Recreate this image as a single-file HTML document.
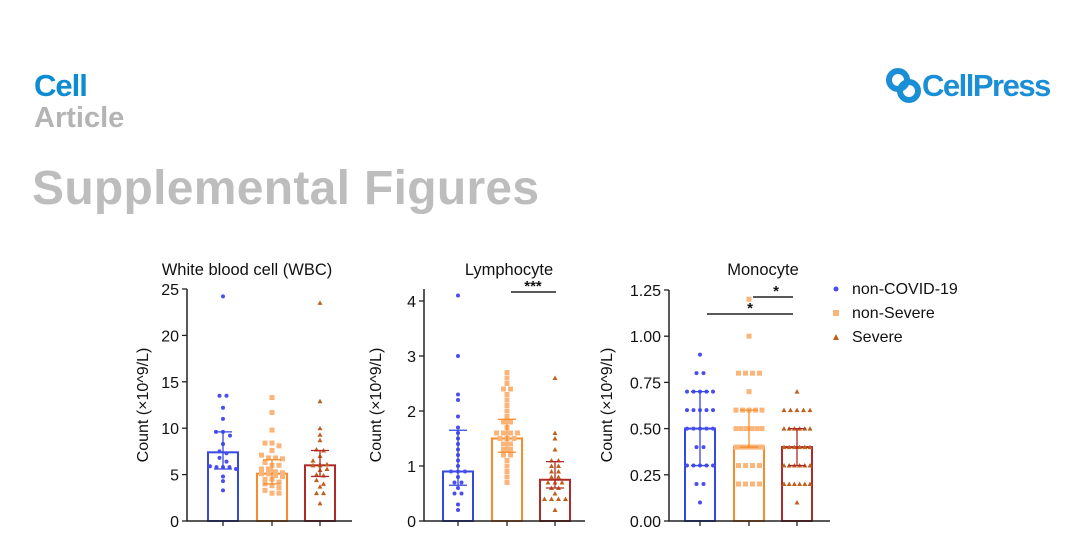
<!DOCTYPE html>
<html><head><meta charset="utf-8"><style>
body{margin:0;background:#fff;width:1080px;height:543px;overflow:hidden;font-family:"Liberation Sans",Arial,sans-serif}
</style></head><body>
<svg id="s" width="1080" height="543" xmlns="http://www.w3.org/2000/svg" font-family="Liberation Sans, Arial, sans-serif">
<text x="34" y="96" font-size="31" font-weight="bold" fill="#0e8cd2" letter-spacing="-1">Cell</text>
<text x="34" y="127" font-size="29" font-weight="bold" fill="#b4b4b4">Article</text>
<text x="32" y="204" font-size="48" font-weight="bold" fill="#bdbdbd" letter-spacing="0.3">Supplemental  Figures</text>
<g>
<circle cx="898" cy="80" r="9" fill="none" stroke="#1a8fd6" stroke-width="6"/>
<circle cx="909" cy="91" r="9" fill="none" stroke="#1a8fd6" stroke-width="6"/>
<text x="922" y="96" font-size="31" font-weight="bold" fill="#1a8fd6" letter-spacing="-1.5">CellPress</text>
</g>
<g id="charts"></g>
<g font-size="16" fill="#111">
<circle cx="836" cy="289" r="2.5" fill="#4a4df0"/><text x="852" y="294">non-COVID-19</text>
<rect x="833" y="310" width="6" height="6" fill="#fbb57a"/><text x="852" y="318">non-Severe</text>
<path d="M833 340 L836 334 L839 340Z" fill="#c0601e"/><text x="852" y="342">Severe</text>
</g>
</svg>
<script>
const panelTitles=["White blood cell (WBC)","Lymphocyte","Monocyte"];
const wbcBlue=[24.2,13.5,13.5,12.2,11,9.6,9.6,9.2,8.3,7.5,7.3,6.8,6.4,5.9,5.8,5.8,5.8,5.6,4.8,4.3,3.3];
const wbcOrange=[13.3,11.7,9.8,8.4,8.4,8.1,7.6,7.1,6.8,6.8,6.7,6.3,6.0,6.0,5.6,5.6,5.3,5.2,5.1,5.1,4.9,4.8,4.5,4.5,4.2,4.0,3.8,3.6,3.3,3.0,3.0];
const wbcRed=[23.5,12.9,10.0,9.3,8.7,7.7,7.6,7.0,6.5,6.1,6.1,6.0,6.0,5.6,5.5,5.0,4.9,4.4,4.0,3.7,3.0,3.0,1.9];
const lymBlue=[4.1,3.0,2.3,2.2,1.9,1.7,1.6,1.5,1.4,1.3,1.2,1.1,1.0,0.9,0.9,0.9,0.8,0.7,0.7,0.6,0.5,0.5,0.3,0.2];
const lymOrange=[2.7,2.6,2.5,2.4,2.4,2.3,2.2,2.1,2.0,1.9,1.8,1.8,1.7,1.6,1.6,1.6,1.6,1.5,1.5,1.5,1.4,1.4,1.3,1.3,1.2,1.2,1.1,1.0,0.9,0.8,0.7];
const lymRed=[2.6,1.6,1.5,1.3,1.1,1.1,1.0,1.0,0.9,0.9,0.8,0.8,0.7,0.7,0.7,0.6,0.6,0.5,0.4,0.4,0.4,0.4,0.2];
const monBlue=[0.9,0.8,0.8,0.7,0.7,0.7,0.7,0.7,0.6,0.6,0.6,0.6,0.6,0.5,0.5,0.5,0.5,0.5,0.4,0.4,0.3,0.3,0.3,0.3,0.3,0.2,0.2,0.1];
const monOrange=[1.2,1.0,0.8,0.8,0.8,0.8,0.7,0.6,0.6,0.6,0.6,0.6,0.5,0.5,0.5,0.5,0.5,0.5,0.4,0.4,0.4,0.4,0.4,0.4,0.4,0.4,0.4,0.4,0.3,0.3,0.3,0.3,0.2,0.2,0.2,0.2];
const monRed=[0.7,0.6,0.6,0.6,0.6,0.6,0.5,0.5,0.5,0.5,0.5,0.5,0.4,0.4,0.4,0.4,0.4,0.4,0.3,0.3,0.3,0.3,0.3,0.3,0.2,0.2,0.2,0.2,0.2,0.2,0.1];
const means=[[7.4,5.1,6.0],[0.9,1.5,0.75],[0.5,0.4,0.4]];
const errLo=[[5.6,4.0,4.8],[0.65,1.25,0.6],[0.3,0.4,0.3]];
const errHi=[[9.6,6.6,7.6],[1.65,1.85,1.08],[0.7,0.6,0.5]];
const yTicks=[[0,5,10,15,20,25],[0,1,2,3,4],[0,0.25,0.5,0.75,1.0,1.25]];
const yTickLabels=[["0","5","10","15","20","25"],["0","1","2","3","4"],["0.00","0.25","0.50","0.75","1.00","1.25"]];
const yMax=[25,4,1.25];
const groups=[[wbcBlue,wbcOrange,wbcRed],[lymBlue,lymOrange,lymRed],[monBlue,monOrange,monRed]];
const NS="http://www.w3.org/2000/svg";
const layout=[{ax:187,top:289,valTop:289,xEnd:352,bx:[223,272,320],tx:247},
 {ax:424,top:289,valTop:301,xEnd:585,bx:[458,507,555],tx:509},
 {ax:669,top:290,valTop:290,xEnd:830,bx:[700,749,797],tx:763}];
const barCol=["#3548e0","#f98c2a","#b02a2a"],ptCol=["#4a4df0","#fbb57a","#c0601e"],names=["non-covid","non-severe","severe"];
const root=document.getElementById('charts');
function mk(t,a,p){const e=document.createElementNS(NS,t);for(const k in a)e.setAttribute(k,a[k]);(p||root).appendChild(e);return e;}
const y0=521;
layout.forEach((L,p)=>{
 const ymaxV=p===1?4:yMax[p];
 const sy=v=>y0-v/ymaxV*(y0-L.valTop);
 const g=mk('g',{});
 
 
 const t=mk('text',{x:L.tx,y:275,'font-size':16.5,'text-anchor':'middle',fill:'#111'},g);t.textContent=panelTitles[p];
 
 
 const yt=mk('text',{transform:`translate(${L.ax-(p===0?39:p===1?43:57)},${405}) rotate(-90)`,'font-size':16,'text-anchor':'middle',fill:'#111'},g);yt.textContent="Count (×10^9/L)";
 
 
 groups[p].forEach((vals,i)=>{
  const cx=L.bx[i];
  const b=mk('rect',{x:cx-15,y:sy(means[p][i]),width:30,height:y0-sy(means[p][i]),fill:'none',stroke:barCol[i],'stroke-width':2},g);
  
  
  // group into rows
  const rows=[];
  vals.forEach(v=>{const y=sy(v);let r=rows.find(q=>Math.abs(q.y-y)<4);if(!r){r={y,items:[]};rows.push(r);}r.items.push(y);});
  rows.forEach(r=>{
   const n=r.items.length;const step=n>1?Math.min(7,26/(n-1)):0;
   r.items.forEach((y,k)=>{
    const x=cx+(k-(n-1)/2)*step;let m;
    if(i===0)m=mk('circle',{cx:x,cy:y,r:2,fill:ptCol[i]},g);
    else if(i===1)m=mk('rect',{x:x-2.5,y:y-2.5,width:5,height:5,fill:ptCol[i]},g);
    else m=mk('path',{d:`M${x-2.5} ${y+2} L${x} ${y-2.5} L${x+2.5} ${y+2}Z`,fill:ptCol[i]},g);
    
    
   });
  });
  const lo=sy(errLo[p][i]),hi=sy(errHi[p][i]);
  const e=mk('path',{d:`M${cx} ${lo}V${hi}M${cx-9} ${hi}H${cx+9}M${cx-9} ${lo}H${cx+9}`,stroke:barCol[i],'stroke-width':1.3,fill:'none'},g);
  
  
  mk('line',{x1:cx,y1:y0,x2:cx,y2:y0+5,stroke:'#222','stroke-width':1.3},g);
 });
 mk('path',{d:`M${L.ax} ${L.top}V${y0}H${L.xEnd}`,stroke:'#222','stroke-width':1.5,fill:'none'},g);
 yTicks[p].forEach((v,j)=>{
  const y=sy(v);
  mk('line',{x1:L.ax-5,y1:y,x2:L.ax,y2:y,stroke:'#222','stroke-width':1.3},g);
  const tl=mk('text',{x:L.ax-8,y:y+6,'font-size':16,'text-anchor':'end',fill:'#111'},g);tl.textContent=yTickLabels[p][j];
  
  
 });
});
function sig(x1,x2,y,txt,tx){mk('line',{x1,y1:y,x2,y2:y,stroke:'#222','stroke-width':1.5});const t=mk('text',{x:tx,y:y-1,'font-size':15,'text-anchor':'middle',fill:'#111','font-weight':'bold'});t.textContent=txt;

}
sig(511,556,292,"***",533);
sig(707,793,314,"*",750);
sig(753,793,297,"*",776);
</script>
</body></html>
